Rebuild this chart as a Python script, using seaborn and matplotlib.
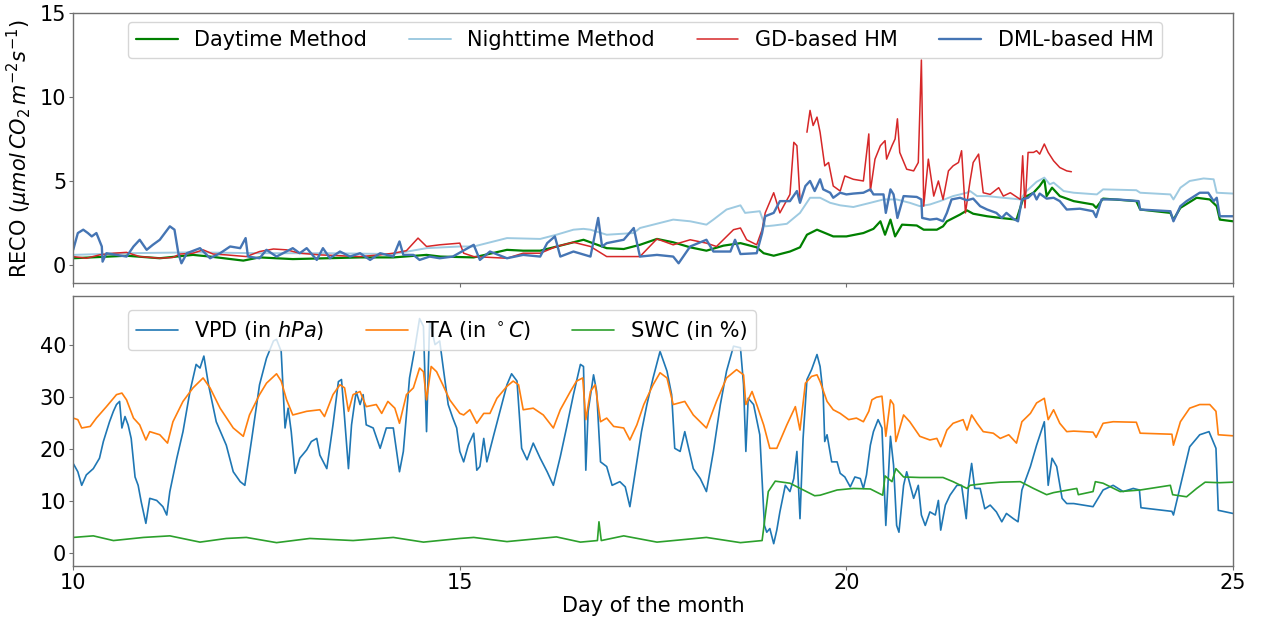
import numpy as np
import pandas as pd
import matplotlib
matplotlib.use("Agg")
import matplotlib.pyplot as plt
import seaborn as sns

# ---------------- data (top panel: RECO) ----------------
day_x = [10.00, 10.69, 11.12, 11.55, 11.77, 12.20, 12.41, 12.84, 13.28, 13.71, 14.14, 14.57,
         14.75, 15.18, 15.61, 15.82, 16.04, 16.47, 16.60, 16.90, 17.12, 17.33, 17.55, 17.76,
         17.98, 18.19, 18.41, 18.63, 18.84, 18.93, 19.06, 19.27, 19.40, 19.49, 19.62, 19.83,
         20.00, 20.22, 20.35, 20.44, 20.50, 20.57, 20.63, 20.72, 20.91, 21.00, 21.17, 21.25,
         21.30, 21.47, 21.56, 21.64, 21.82, 21.99, 22.20, 22.29, 22.42, 22.50, 22.56, 22.59,
         22.66, 22.76, 22.94, 23.19, 23.23, 23.32, 23.75, 23.80, 24.19, 24.23, 24.32, 24.53,
         24.70, 24.79, 24.83, 25.00]
day_y = [0.4, 0.55, 0.4, 0.6, 0.5, 0.26, 0.45, 0.35, 0.4, 0.45, 0.45, 0.6,
         0.5, 0.45, 0.9, 0.85, 0.85, 1.35, 1.5, 1.0, 0.95, 1.2, 1.55, 1.35,
         1.05, 0.85, 1.15, 1.3, 1.05, 0.7, 0.55, 0.8, 1.05, 1.8, 2.1, 1.7,
         1.7, 1.9, 2.15, 2.6, 1.8, 2.7, 1.7, 2.4, 2.35, 2.1, 2.1, 2.3,
         2.6, 3.0, 3.25, 3.05, 2.9, 2.8, 2.7, 4.0, 4.3, 4.7, 5.1, 4.1,
         4.6, 4.1, 3.8, 3.6, 3.4, 3.95, 3.8, 3.3, 3.1, 2.7, 3.4, 4.0,
         3.9, 3.5, 2.7, 2.6]

night_x = [10.00, 10.69, 11.55, 12.41, 13.28, 14.14, 14.57, 15.00, 15.18, 15.61, 16.04, 16.25,
           16.47, 16.60, 16.69, 16.90, 17.25, 17.33, 17.76, 17.98, 18.19, 18.28, 18.45, 18.63,
           18.69, 18.88, 18.95, 19.06, 19.23, 19.40, 19.53, 19.66, 19.79, 19.92, 20.09, 20.31,
           20.48, 20.65, 20.82, 20.95, 21.08, 21.21, 21.38, 21.56, 21.60, 21.69, 21.82, 22.03,
           22.25, 22.33, 22.46, 22.56, 22.63, 22.68, 22.81, 22.94, 23.24, 23.32, 23.75, 23.80,
           24.19, 24.23, 24.32, 24.44, 24.62, 24.75, 24.79, 25.00]
night_y = [0.6, 0.7, 0.75, 0.7, 0.7, 0.65, 1.0, 1.1, 1.1, 1.6, 1.55, 1.8,
           2.1, 2.15, 2.1, 1.8, 1.9, 2.2, 2.7, 2.6, 2.4, 2.7, 3.3, 3.55,
           3.1, 3.2, 2.3, 2.35, 2.45, 3.1, 4.0, 4.0, 3.7, 3.55, 3.45, 3.7,
           3.9, 3.9, 3.7, 3.5, 3.6, 3.8, 4.1, 4.3, 4.4, 4.1, 4.1, 4.0,
           3.9, 4.4, 4.95, 5.2, 4.8, 4.9, 4.4, 4.3, 4.2, 4.5, 4.45, 4.3,
           4.2, 3.9, 4.6, 5.0, 5.15, 5.1, 4.3, 4.25]

gd_x = [10.00, 10.17, 10.34, 10.52, 10.69, 10.86, 11.12, 11.29, 11.38, 11.55, 11.68, 11.81,
        11.98, 12.24, 12.41, 12.59, 12.76, 12.93, 13.19, 13.45, 13.71, 13.97, 14.14, 14.31,
        14.46, 14.57, 14.74, 15.00, 15.05, 15.18, 15.61, 15.82, 16.04, 16.25, 16.47, 16.69,
        16.90, 17.12, 17.33, 17.55, 17.76, 17.98, 18.19, 18.32, 18.54, 18.63, 18.71, 18.84,
        18.91, 18.95, 19.06, 19.14, 19.27, 19.32, 19.36, 19.40, 19.44, 19.49, 19.53, 19.57,
        19.62, 19.66, 19.72, 19.77, 19.83, 19.92, 19.98, 20.09, 20.22, 20.29, 20.31, 20.37,
        20.44, 20.50, 20.52, 20.59, 20.63, 20.66, 20.69, 20.78, 20.87, 20.93, 20.97, 21.00,
        21.06, 21.13, 21.19, 21.25, 21.32, 21.38, 21.45, 21.49, 21.54, 21.60, 21.64, 21.71,
        21.77, 21.86, 21.97, 22.03, 22.12, 22.25, 22.28, 22.31, 22.35, 22.42, 22.46, 22.50,
        22.56, 22.61, 22.68, 22.76, 22.85, 22.91]
gd_y = [0.5, 0.4, 0.6, 0.7, 0.75, 0.5, 0.4, 0.45, 0.65, 0.7, 0.9, 0.65,
        0.6, 0.5, 0.8, 0.95, 0.9, 0.7, 0.6, 0.55, 0.5, 0.6, 0.7, 0.85,
        1.6, 1.1, 1.2, 1.3, 0.7, 0.5, 0.4, 0.7, 0.7, 1.1, 1.35, 1.1,
        0.5, 0.5, 0.5, 1.55, 1.2, 1.5, 1.3, 1.1, 2.1, 2.2, 1.5, 1.2,
        2.1, 3.1, 4.3, 3.1, 4.2, 7.3, 7.1, 3.9, np.nan, 7.9, 9.2, 8.3,
        8.8, 7.9, 5.9, 6.1, 4.7, 4.4, 5.3, 5.1, 5.0, 7.8, 4.4, 6.3,
        7.1, 7.4, 6.3, 7.1, 7.5, 8.7, 6.7, 5.7, 5.6, 6.1, 12.2, 3.5,
        6.3, 4.1, 5.0, 3.9, 5.6, 5.9, 6.1, 6.8, 3.1, 5.0, 6.1, 6.6,
        4.3, 4.2, 4.6, 4.1, 4.3, 3.9, 6.5, 3.4, 6.7, 6.7, 6.8, 6.6,
        7.2, 6.7, 6.2, 5.8, 5.6, 5.55]

dml_x = [10.00, 10.06, 10.13, 10.19, 10.24, 10.30, 10.37, 10.38, 10.43, 10.69, 10.78, 10.86,
         10.95, 11.03, 11.12, 11.25, 11.31, 11.36, 11.40, 11.47, 11.64, 11.77, 11.90, 12.03,
         12.16, 12.23, 12.26, 12.41, 12.50, 12.63, 12.84, 12.93, 13.02, 13.15, 13.23, 13.32,
         13.45, 13.58, 13.71, 13.84, 13.97, 14.14, 14.22, 14.27, 14.40, 14.48, 14.61, 14.74,
         14.91, 15.18, 15.26, 15.39, 15.61, 15.82, 16.04, 16.13, 16.23, 16.30, 16.47, 16.69,
         16.79, 16.84, 16.90, 17.12, 17.25, 17.33, 17.55, 17.76, 17.83, 17.98, 18.19, 18.28,
         18.50, 18.56, 18.63, 18.84, 18.91, 18.95, 19.06, 19.14, 19.27, 19.36, 19.40, 19.47,
         19.53, 19.59, 19.66, 19.70, 19.79, 19.83, 19.92, 20.00, 20.09, 20.22, 20.31, 20.35,
         20.48, 20.51, 20.57, 20.61, 20.66, 20.74, 20.91, 20.97, 20.98, 21.08, 21.17, 21.25,
         21.30, 21.36, 21.47, 21.56, 21.64, 21.73, 21.82, 21.94, 22.01, 22.07, 22.16, 22.22,
         22.27, 22.35, 22.42, 22.46, 22.50, 22.59, 22.68, 22.76, 22.85, 23.02, 23.19, 23.23,
         23.30, 23.50, 23.78, 23.80, 24.19, 24.23, 24.32, 24.40, 24.57, 24.68, 24.75, 24.79,
         24.83, 25.00]
dml_y = [0.9, 1.9, 2.1, 1.9, 1.7, 1.9, 1.1, 0.2, 0.7, 0.5, 1.1, 1.5,
         0.9, 1.2, 1.5, 2.3, 2.1, 0.7, 0.1, 0.7, 1.0, 0.4, 0.7, 1.1,
         1.0, 1.6, 0.5, 0.4, 0.9, 0.5, 1.0, 0.7, 1.0, 0.3, 1.0, 0.4,
         0.8, 0.5, 0.7, 0.3, 0.7, 0.5, 1.4, 0.6, 0.6, 0.3, 0.5, 0.4,
         0.5, 1.2, 0.3, 0.8, 0.4, 0.6, 0.5, 1.3, 1.7, 0.5, 0.8, 0.5,
         2.8, 1.1, 1.3, 1.5, 2.2, 0.5, 0.6, 0.5, 0.1, 1.1, 1.5, 0.8,
         0.8, 1.5, 0.65, 0.7, 1.9, 2.9, 3.1, 3.8, 3.8, 4.4, 3.7, 4.7,
         5.0, 4.4, 5.1, 4.5, 4.3, 4.0, 4.3, 4.2, 4.25, 4.3, 4.5, 4.2,
         4.2, 3.1, 4.5, 4.2, 2.8, 4.1, 4.05, 3.9, 2.8, 2.7, 2.75, 2.6,
         3.1, 3.9, 4.0, 3.85, 3.95, 3.5, 3.3, 3.1, 2.8, 3.1, 2.75, 2.6,
         3.9, 4.0, 4.3, 3.9, 4.25, 3.95, 4.0, 3.8, 3.3, 3.35, 3.2, 2.85,
         3.9, 3.9, 3.8, 3.3, 3.2, 2.6, 3.5, 3.8, 4.3, 4.3, 3.8, 4.0,
         2.9, 2.9]

# ---------------- data (bottom panel: drivers) ----------------
vpd_x = [10.00, 10.06, 10.11, 10.17, 10.26, 10.34, 10.39, 10.43, 10.47, 10.52, 10.56, 10.60,
         10.63, 10.67, 10.71, 10.75, 10.80, 10.84, 10.88, 10.94, 10.99, 11.08, 11.16, 11.21,
         11.25, 11.34, 11.42, 11.51, 11.59, 11.64, 11.69, 11.75, 11.85, 11.98, 12.07, 12.16,
         12.22, 12.31, 12.41, 12.50, 12.59, 12.63, 12.69, 12.74, 12.78, 12.82, 12.87, 12.93,
         13.02, 13.08, 13.15, 13.19, 13.28, 13.36, 13.43, 13.47, 13.51, 13.56, 13.60, 13.66,
         13.71, 13.75, 13.79, 13.88, 13.97, 14.05, 14.14, 14.22, 14.27, 14.35, 14.42, 14.48,
         14.53, 14.57, 14.61, 14.68, 14.74, 14.78, 14.85, 14.91, 14.96, 15.00, 15.05, 15.11,
         15.18, 15.22, 15.26, 15.31, 15.35, 15.44, 15.52, 15.61, 15.67, 15.74, 15.80, 15.87,
         15.95, 16.04, 16.13, 16.21, 16.30, 16.38, 16.47, 16.56, 16.60, 16.63, 16.66, 16.73,
         16.77, 16.82, 16.90, 16.97, 17.07, 17.14, 17.20, 17.29, 17.35, 17.42, 17.50, 17.59,
         17.68, 17.74, 17.78, 17.85, 17.91, 18.02, 18.11, 18.19, 18.28, 18.37, 18.45, 18.54,
         18.63, 18.67, 18.70, 18.73, 18.80, 18.88, 18.94, 18.97, 19.01, 19.06, 19.10, 19.14,
         19.21, 19.27, 19.32, 19.36, 19.40, 19.44, 19.49, 19.55, 19.62, 19.66, 19.70, 19.72,
         19.75, 19.81, 19.88, 19.92, 19.98, 20.05, 20.11, 20.18, 20.22, 20.26, 20.31, 20.35,
         20.41, 20.46, 20.51, 20.57, 20.61, 20.65, 20.68, 20.74, 20.78, 20.87, 20.93, 20.97,
         21.02, 21.08, 21.15, 21.19, 21.22, 21.28, 21.34, 21.43, 21.49, 21.55, 21.58, 21.62,
         21.66, 21.73, 21.79, 21.86, 21.94, 22.01, 22.07, 22.16, 22.22, 22.27, 22.38, 22.46,
         22.56, 22.61, 22.66, 22.72, 22.79, 22.85, 22.94, 23.19, 23.32, 23.45, 23.58, 23.71,
         23.79, 23.81, 24.21, 24.23, 24.44, 24.57, 24.69, 24.78, 24.81, 25.00]
vpd_y = [17.2, 15.6, 13.0, 15.0, 16.2, 18.2, 21.4, 23.3, 25.2, 27.2, 28.5, 29.1,
         24.0, 26.2, 24.6, 22.0, 14.6, 13.0, 9.8, 5.7, 10.5, 10.1, 8.9, 7.3,
         11.8, 18.2, 23.3, 31.0, 36.2, 35.5, 37.8, 32.3, 25.2, 20.7, 15.6, 13.7,
         13.0, 22.0, 32.3, 37.4, 40.7, 41.0, 38.7, 24.0, 27.8, 23.3, 15.3, 18.2,
         19.8, 21.4, 22.0, 18.8, 16.2, 24.6, 32.9, 33.3, 25.9, 16.2, 24.6, 31.0,
         28.5, 30.4, 24.6, 24.0, 20.1, 24.0, 24.0, 15.6, 19.5, 33.6, 39.4, 45.0,
         43.5, 23.3, 44.5, 40.0, 40.7, 36.2, 28.5, 25.9, 24.0, 19.5, 17.5, 20.7,
         23.0, 15.9, 16.6, 22.0, 17.5, 22.7, 27.2, 32.3, 34.4, 33.0, 20.1, 17.9,
         21.1, 18.2, 15.6, 13.0, 18.5, 24.0, 30.4, 36.2, 35.8, 15.9, 27.2, 34.2,
         31.0, 17.5, 16.6, 13.0, 13.7, 12.7, 8.9, 17.5, 23.3, 28.5, 33.6, 38.7,
         34.9, 30.4, 20.1, 19.5, 23.3, 16.2, 14.3, 11.8, 19.5, 28.5, 34.9, 39.7,
         39.4, 32.3, 19.5, 29.7, 28.5, 22.7, 5.3, 4.0, 4.7, 1.8, 4.4, 7.9,
         13.0, 11.8, 14.3, 19.5, 6.6, 22.0, 33.3, 35.2, 38.1, 35.8, 30.4, 21.4,
         22.7, 17.5, 17.5, 15.3, 14.6, 12.7, 14.6, 14.3, 12.4, 15.0, 20.7, 23.3,
         25.6, 24.0, 5.3, 22.4, 16.9, 5.3, 4.0, 13.0, 15.6, 10.5, 13.0, 7.3,
         5.3, 7.9, 7.3, 10.1, 4.4, 9.2, 11.1, 13.0, 13.0, 6.6, 13.0, 17.2,
         12.4, 12.4, 8.5, 9.2, 7.9, 6.0, 7.6, 6.6, 6.0, 12.1, 16.6, 20.7,
         25.2, 13.0, 18.2, 16.6, 10.5, 9.5, 9.5, 8.9, 12.1, 13.0, 11.8, 12.4,
         12.1, 8.7, 8.0, 7.3, 20.4, 22.7, 23.3, 20.1, 8.2, 7.6]

ta_x = [10.00, 10.06, 10.11, 10.22, 10.30, 10.43, 10.56, 10.63, 10.69, 10.78, 10.86, 10.94,
        10.99, 11.12, 11.22, 11.29, 11.42, 11.55, 11.68, 11.77, 11.90, 12.07, 12.20, 12.28,
        12.41, 12.50, 12.63, 12.69, 12.76, 12.84, 13.02, 13.19, 13.25, 13.36, 13.45, 13.51,
        13.56, 13.62, 13.71, 13.79, 13.92, 13.99, 14.07, 14.16, 14.22, 14.31, 14.40, 14.48,
        14.53, 14.57, 14.63, 14.70, 14.78, 14.87, 15.00, 15.05, 15.13, 15.22, 15.31, 15.39,
        15.48, 15.61, 15.69, 15.76, 15.82, 15.95, 16.08, 16.21, 16.30, 16.43, 16.51, 16.59,
        16.63, 16.69, 16.75, 16.82, 16.90, 16.99, 17.12, 17.20, 17.29, 17.38, 17.50, 17.59,
        17.68, 17.76, 17.91, 18.02, 18.19, 18.32, 18.45, 18.58, 18.67, 18.70, 18.78, 18.84,
        18.93, 19.01, 19.10, 19.23, 19.34, 19.40, 19.47, 19.55, 19.62, 19.66, 19.75, 19.83,
        19.92, 20.03, 20.13, 20.22, 20.29, 20.33, 20.39, 20.46, 20.51, 20.57, 20.61, 20.64,
        20.74, 20.82, 20.95, 21.08, 21.17, 21.22, 21.30, 21.38, 21.51, 21.56, 21.62, 21.69,
        21.77, 21.90, 21.99, 22.10, 22.20, 22.27, 22.38, 22.46, 22.56, 22.61, 22.68, 22.76,
        22.85, 22.94, 23.19, 23.23, 23.32, 23.45, 23.75, 23.80, 24.21, 24.23, 24.32, 24.44,
        24.57, 24.70, 24.78, 24.81, 25.00]
ta_y = [25.9, 25.6, 24.0, 24.3, 25.9, 28.1, 30.4, 30.7, 29.4, 25.9, 24.6, 21.7,
        23.3, 22.7, 21.1, 25.2, 29.1, 31.7, 33.6, 31.7, 27.8, 24.0, 22.4, 26.5,
        30.4, 32.6, 34.4, 33.0, 29.4, 26.5, 27.2, 27.5, 26.2, 30.4, 32.3, 31.7,
        27.2, 30.4, 31.0, 28.1, 28.5, 26.8, 29.1, 27.8, 24.9, 30.4, 31.7, 35.5,
        34.8, 29.4, 35.8, 34.8, 32.3, 29.4, 26.8, 26.5, 27.5, 24.9, 26.8, 26.8,
        29.7, 32.0, 33.0, 32.3, 27.5, 27.8, 26.5, 24.0, 27.5, 31.0, 33.0, 33.6,
        25.6, 31.0, 32.3, 25.2, 25.9, 24.3, 24.0, 21.7, 24.6, 28.5, 32.3, 34.6,
        33.6, 28.5, 29.1, 26.5, 24.0, 29.1, 33.6, 35.2, 34.2, 28.5, 31.0, 28.5,
        24.6, 20.1, 20.1, 24.6, 28.1, 23.6, 32.6, 33.9, 34.2, 32.9, 29.1, 27.5,
        26.8, 25.6, 25.9, 25.2, 27.2, 29.4, 29.9, 30.1, 22.4, 29.4, 28.5, 21.4,
        26.5, 25.2, 22.4, 21.7, 22.0, 20.4, 23.6, 24.9, 25.6, 23.6, 26.5, 24.9,
        23.3, 23.0, 22.0, 22.7, 21.1, 25.2, 26.8, 28.8, 29.7, 25.6, 27.5, 24.9,
        23.3, 23.4, 23.2, 22.2, 24.9, 25.2, 25.1, 23.0, 22.8, 20.7, 25.2, 27.8,
        28.5, 28.5, 27.2, 22.7, 22.5]

swc_x = [10.00, 10.26, 10.52, 10.91, 11.25, 11.64, 11.98, 12.24, 12.63, 13.06, 13.62, 14.14,
         14.53, 15.00, 15.18, 15.61, 16.25, 16.56, 16.78, 16.80, 16.83, 17.12, 17.55, 18.19,
         18.63, 18.91, 18.99, 19.08, 19.27, 19.59, 19.66, 19.88, 20.09, 20.31, 20.47, 20.50,
         20.59, 20.64, 20.74, 20.95, 21.25, 21.38, 21.56, 21.60, 21.82, 21.99, 22.25, 22.42,
         22.59, 22.68, 22.98, 23.00, 23.19, 23.22, 23.32, 23.54, 23.80, 24.19, 24.22, 24.40,
         24.53, 24.64, 24.83, 25.00]
swc_y = [3.0, 3.3, 2.4, 3.0, 3.3, 2.1, 2.8, 3.0, 2.0, 2.8, 2.4, 3.0,
         2.1, 2.8, 3.0, 2.2, 3.1, 2.1, 2.4, 6.0, 2.4, 3.3, 2.1, 3.0,
         2.0, 2.4, 11.8, 13.8, 13.4, 11.0, 11.1, 12.1, 12.4, 12.3, 11.1, 14.8,
         13.7, 16.2, 14.6, 14.5, 14.5, 13.7, 12.4, 13.0, 13.4, 13.6, 13.7, 12.4,
         11.2, 11.6, 12.4, 11.2, 11.8, 13.7, 13.4, 11.8, 12.1, 13.0, 11.2, 10.8,
         12.4, 13.6, 13.5, 13.6]

x_ticks = [10, 15, 20, 25]

# ---------------- plotting ----------------
sns.set_style("ticks")
plt.rcParams['font.family'] = ['DejaVu Sans']
plt.rcParams['axes.edgecolor'] = '#707070'
plt.rcParams['axes.linewidth'] = 1.0
plt.rcParams['mathtext.fontset'] = 'dejavusans'
plt.rcParams['text.color'] = 'black'
plt.rcParams['axes.labelcolor'] = 'black'
plt.rcParams['xtick.color'] = '#707070'
plt.rcParams['ytick.color'] = '#707070'
plt.rcParams['xtick.labelcolor'] = 'black'
plt.rcParams['ytick.labelcolor'] = 'black'

fig, (ax1, ax2) = plt.subplots(2, 1, figsize=(12.62, 6.18), dpi=100, sharex=True)
fig.subplots_adjust(left=0.058, right=0.977, top=0.979, bottom=0.084, hspace=0.045)


def draw(ax, xs, ys, color, lw, label):
    df = pd.DataFrame({"x": xs, "y": ys})
    seg = df["y"].isna().cumsum()
    first = True
    for _, part in df.groupby(seg):
        part = part.dropna()
        sns.lineplot(data=part, x="x", y="y", ax=ax, color=color, lw=lw,
                     estimator=None, sort=False, label=label if first else None,
                     legend=False)
        first = False


draw(ax1, day_x, day_y, "green", 1.6, "Daytime Method")
draw(ax1, night_x, night_y, "#9ecae1", 1.4, "Nighttime Method")
draw(ax1, gd_x, gd_y, "#d62728", 1.1, "GD-based HM")
draw(ax1, dml_x, dml_y, "#4575b4", 1.7, "DML-based HM")

draw(ax2, vpd_x, vpd_y, "tab:blue", 1.2, "VPD (in $hPa$)")
draw(ax2, ta_x, ta_y, "tab:orange", 1.2, "TA (in $^\\circ C$)")
draw(ax2, swc_x, swc_y, "tab:green", 1.2, "SWC (in %)")

ax1.set_ylim(-1.1, 15)
ax1.set_yticks([0, 5, 10, 15])
ax2.set_ylim(-2.5, 49.4)
ax2.set_yticks([0, 10, 20, 30, 40])
ax2.set_xlim(10, 25)
ax2.set_xticks(x_ticks)

ax1.set_xlabel("")
ax1.set_ylabel("RECO ($\\mu mol\\, CO_2\\, m^{-2} s^{-1}$)", fontsize=15, labelpad=4)
ax2.set_ylabel("")
ax2.set_xlabel("Day of the month", fontsize=15, labelpad=2)
for ax in (ax1, ax2):
    ax.tick_params(labelsize=15, length=3, pad=2)
    for s in ax.spines.values():
        s.set_visible(True)

ax1.legend(loc="upper left", bbox_to_anchor=(0.047, 0.968), borderaxespad=0, ncol=4,
           fontsize=15, frameon=True, framealpha=0.8, edgecolor="#cccccc", fancybox=True)
ax2.legend(loc="upper left", bbox_to_anchor=(0.047, 0.945), borderaxespad=0, ncol=3,
           fontsize=15, frameon=True, framealpha=0.8, edgecolor="#cccccc", fancybox=True)

fig.savefig("out.png", dpi=100)
